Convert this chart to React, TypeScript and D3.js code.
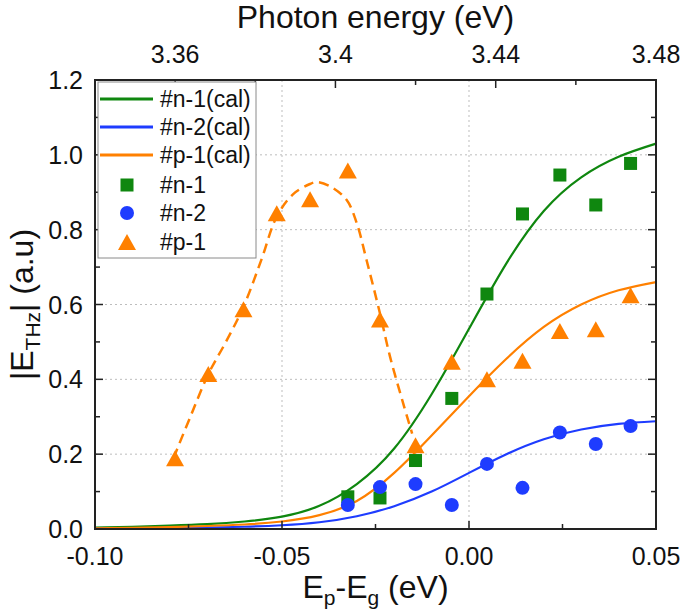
import React from "react";
import * as d3 from "d3";

// ---------- data ----------
const expX = [-0.0324, -0.0238, -0.0143, -0.0046, 0.0048, 0.0143, 0.0243, 0.0339, 0.0432];
const n1Y = [0.086, 0.083, 0.183, 0.349, 0.628, 0.842, 0.946, 0.866, 0.977];
const n2Y = [0.064, 0.112, 0.120, 0.064, 0.174, 0.110, 0.258, 0.227, 0.275];
const p1X = [-0.0786, -0.0697, -0.0603, -0.0514, -0.0425, -0.0324, -0.0238, -0.0143, -0.0046, 0.0048, 0.0143, 0.0243, 0.0339, 0.0432];
const p1Y = [0.189, 0.414, 0.587, 0.844, 0.881, 0.958, 0.560, 0.224, 0.447, 0.400, 0.450, 0.529, 0.534, 0.625];

const calX = [-0.10, -0.09, -0.08, -0.07, -0.06, -0.05, -0.04, -0.03, -0.02, -0.01, 0.0, 0.01, 0.02, 0.03, 0.04, 0.05];
const n1Cal = [0.004, 0.006, 0.009, 0.013, 0.020, 0.033, 0.062, 0.12, 0.215, 0.36, 0.535, 0.71, 0.85, 0.94, 0.995, 1.03];
const n2Cal = [0.001, 0.002, 0.003, 0.004, 0.006, 0.010, 0.018, 0.034, 0.061, 0.10, 0.15, 0.20, 0.24, 0.266, 0.281, 0.288];
const p1Cal = [0.002, 0.003, 0.005, 0.008, 0.012, 0.020, 0.037, 0.075, 0.15, 0.25, 0.355, 0.455, 0.54, 0.60, 0.638, 0.66];

const dashX = [-0.079, -0.0745, -0.0697, -0.065, -0.0603, -0.0555, -0.0514, -0.047, -0.0425, -0.0407, -0.037, -0.0327, -0.030, -0.0274, -0.0238, -0.0211, -0.0176, -0.0152];
const dashY = [0.19, 0.30, 0.414, 0.50, 0.594, 0.72, 0.835, 0.895, 0.922, 0.927, 0.915, 0.879, 0.817, 0.719, 0.576, 0.46, 0.336, 0.255];

const bottomTicks = [-0.10, -0.05, 0.0, 0.05];
const bottomLabels = ["-0.10", "-0.05", "0.00", "0.05"];
const bottomMinor = [-0.075, -0.025, 0.025];
const topTicks = [3.36, 3.40, 3.44, 3.48];
const topLabels = ["3.36", "3.4", "3.44", "3.48"];
const topMinor = [3.38, 3.42, 3.46];
const yTicks = [0, 0.2, 0.4, 0.6, 0.8, 1.0, 1.2];
const yLabels = ["0.0", "0.2", "0.4", "0.6", "0.8", "1.0", "1.2"];
const yMinor = [0.1, 0.3, 0.5, 0.7, 0.9, 1.1];
const xGrid = [-0.05, 0.0];
const yGrid = [0, 0.2, 0.4, 0.6, 0.8, 1.0];

const legendItems = ["#n-1(cal)", "#n-2(cal)", "#p-1(cal)", "#n-1", "#n-2", "#p-1"];

// ---------- style ----------
const GREEN = "#0f870f";
const BLUE = "#1e3cff";
const ORANGE = "#ff8000";
const FONT = "'Liberation Sans', Arial, sans-serif";

const L = 95, R = 656, T = 80, B = 529;

export default function App() {
  const x = d3.scaleLinear().domain([-0.10, 0.05]).range([L, R]);
  const xTop = d3.scaleLinear().domain([3.34, 3.48]).range([L, R]);
  const y = d3.scaleLinear().domain([0, 1.2]).range([B, T]);

  const line = d3.line<[number, number]>().x(d => x(d[0])).y(d => y(d[1])).curve(d3.curveNatural);
  const dashLine = d3.line<[number, number]>().x(d => x(d[0])).y(d => y(d[1])).curve(d3.curveCatmullRom.alpha(0.5));

  const calPath = (ys: number[]) => line(calX.map((v, i) => [v, ys[i]] as [number, number])) || "";
  const dashPath = dashLine(dashX.map((v, i) => [v, dashY[i]] as [number, number])) || "";

  const tri = (cx: number, cy: number, w = 18, h = 16) =>
    `M${cx},${cy - h / 2}L${cx + w / 2},${cy + h / 2}L${cx - w / 2},${cy + h / 2}Z`;
  const sq = 13;

  const legendRows = [99, 127, 155, 185, 213, 242];

  return (
    <svg width={685} height={615} style={{ position: "absolute", left: 0, top: 0, background: "#fff" }} fontFamily={FONT}>
      <rect x={0} y={0} width={685} height={615} fill="#fff" />
      {/* grid */}
      {yGrid.map((v, i) => (
        <line key={"gy" + i} x1={L} x2={R} y1={y(v)} y2={y(v)} stroke="#bdbdbd" strokeWidth={1} strokeDasharray="2 3" />
      ))}
      {xGrid.map((v, i) => (
        <line key={"gx" + i} x1={x(v)} x2={x(v)} y1={T} y2={B} stroke="#bdbdbd" strokeWidth={1} strokeDasharray="2 3" />
      ))}

      {/* cal curves */}
      <path d={calPath(n1Cal)} fill="none" stroke={GREEN} strokeWidth={2.2} />
      <path d={calPath(n2Cal)} fill="none" stroke={BLUE} strokeWidth={2.2} />
      <path d={calPath(p1Cal)} fill="none" stroke={ORANGE} strokeWidth={2.2} />

      {/* markers */}
      {expX.map((v, i) => (
        <rect key={"n1" + i} x={x(v) - sq / 2} y={y(n1Y[i]) - sq / 2} width={sq} height={sq} fill={GREEN} />
      ))}
      {expX.map((v, i) => (
        <circle key={"n2" + i} cx={x(v)} cy={y(n2Y[i])} r={7} fill={BLUE} />
      ))}
      {p1X.map((v, i) => (
        <path key={"p1" + i} d={tri(x(v), y(p1Y[i]))} fill={ORANGE} />
      ))}

      {/* dashed fit */}
      <path d={dashPath} fill="none" stroke={ORANGE} strokeWidth={2.5} strokeDasharray="10 6" />

      {/* frame */}
      <rect x={L} y={T} width={R - L} height={B - T} fill="none" stroke="#222" strokeWidth={2} />

      {/* ticks */}
      {bottomTicks.map((v, i) => (
        <g key={"bt" + i}>
          <line x1={x(v)} x2={x(v)} y1={B} y2={B - 8} stroke="#222" strokeWidth={1.5} />
          <text x={x(v)} y={565} fontSize={25} textAnchor="middle" fill="#111">{bottomLabels[i]}</text>
        </g>
      ))}
      {bottomMinor.map((v, i) => (
        <line key={"bm" + i} x1={x(v)} x2={x(v)} y1={B} y2={B - 5} stroke="#222" strokeWidth={1.5} />
      ))}
      {topTicks.map((v, i) => (
        <g key={"tt" + i}>
          <line x1={xTop(v)} x2={xTop(v)} y1={T} y2={T + 8} stroke="#222" strokeWidth={1.5} />
          <text x={xTop(v)} y={63} fontSize={25} textAnchor="middle" fill="#111">{topLabels[i]}</text>
        </g>
      ))}
      {topMinor.map((v, i) => (
        <line key={"tm" + i} x1={xTop(v)} x2={xTop(v)} y1={T} y2={T + 5} stroke="#222" strokeWidth={1.5} />
      ))}
      {yTicks.map((v, i) => (
        <g key={"yt" + i}>
          <line x1={L} x2={L + 8} y1={y(v)} y2={y(v)} stroke="#222" strokeWidth={1.5} />
          <line x1={R} x2={R - 8} y1={y(v)} y2={y(v)} stroke="#222" strokeWidth={1.5} />
          <text x={83} y={y(v) + 9} fontSize={25} textAnchor="end" fill="#111">{yLabels[i]}</text>
        </g>
      ))}
      {yMinor.map((v, i) => (
        <g key={"ym" + i}>
          <line x1={L} x2={L + 5} y1={y(v)} y2={y(v)} stroke="#222" strokeWidth={1.5} />
          <line x1={R} x2={R - 5} y1={y(v)} y2={y(v)} stroke="#222" strokeWidth={1.5} />
        </g>
      ))}

      {/* axis titles */}
      <text x={(L + R) / 2} y={28} fontSize={32} textAnchor="middle" fill="#111">Photon energy (eV)</text>
      <text x={(L + R) / 2} y={598} fontSize={32} textAnchor="middle" fill="#111">
        E<tspan fontSize={21} dy={7}>p</tspan>
        <tspan dy={-7}>-E</tspan>
        <tspan fontSize={21} dy={7}>g</tspan>
        <tspan dy={-7}> (eV)</tspan>
      </text>
      <text transform={`translate(33,${(T + B) / 2}) rotate(-90)`} fontSize={32} textAnchor="middle" fill="#111">
        |E<tspan fontSize={21} dy={7}>THz</tspan>
        <tspan dy={-7}>| (a.u)</tspan>
      </text>

      {/* legend */}
      <rect x={98} y={82} width={158} height={176} fill="#fff" stroke="#8a8a8a" strokeWidth={1} />
      {[GREEN, BLUE, ORANGE].map((c, i) => (
        <line key={"ll" + i} x1={100} x2={153} y1={legendRows[i]} y2={legendRows[i]} stroke={c} strokeWidth={3} />
      ))}
      <rect x={127 - sq / 2} y={legendRows[3] - sq / 2} width={sq} height={sq} fill={GREEN} />
      <circle cx={127} cy={legendRows[4]} r={7} fill={BLUE} />
      <path d={tri(127, legendRows[5])} fill={ORANGE} />
      {legendItems.map((t, i) => (
        <text key={"lt" + i} x={160} y={legendRows[i] + 8} fontSize={23} fill="#111">{t}</text>
      ))}
    </svg>
  );
}
